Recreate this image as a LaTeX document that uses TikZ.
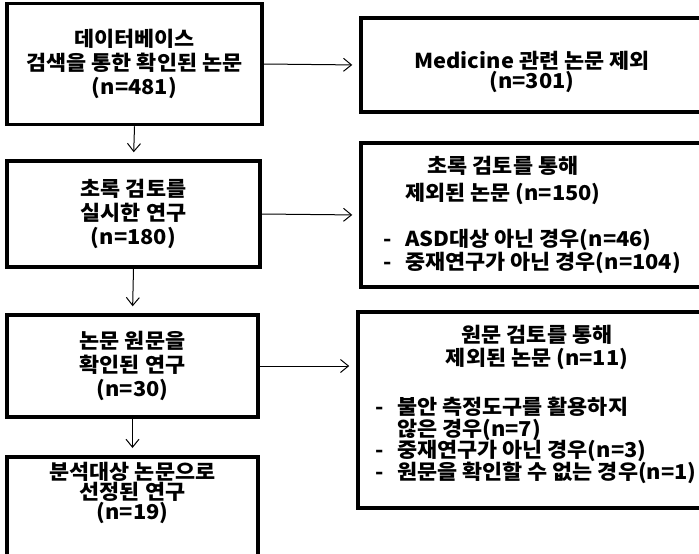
\documentclass[tikz,border=0pt]{standalone}
\usepackage{fontspec}
\setmainfont{Noto Sans CJK KR}[FakeStretch=1.065]
\usetikzlibrary{arrows.meta}

\tikzset{
	box/.style={draw=black, line width=3.5pt, inner sep=0pt},
	txt/.style={font=\fontsize{20.5}{24}\selectfont\bfseries, align=center, inner sep=0pt},
	lst/.style={font=\fontsize{20.5}{23}\selectfont\bfseries, align=left, inner sep=0pt, anchor=west},
	flow/.style={-{Straight Barb[length=8pt,width=13pt]}, line width=1pt, shorten >=7pt}
}
\newcommand{\lstdash}{\makebox[22pt][l]{-}}

\begin{document}
\begin{tikzpicture}[x=1pt, y=-1pt]
\useasboundingbox (0,0) rectangle (699,554);
\clip (0,0) rectangle (699,554);
\fill[white] (0,0) rectangle (699,554);

\node[box, txt, minimum width=255pt, minimum height=121pt] (db) at (134.5,64)
	{데이터베이스\\검색을 통한 확인된 논문\\(n=481)};
\node[box, txt, minimum width=253pt, minimum height=106pt] (abs) at (133.5,214)
	{초록 검토를\\실시한 연구\\(n=180)};
\node[box, txt, minimum width=251pt, minimum height=102pt] (full) at (132.5,366)
	{논문 원문을\\확인된 연구\\(n=30)};
\node[box, minimum width=251pt, minimum height=130pt, anchor=north] (sel) at (132.5,455) {};
\node[txt, font=\fontsize{20.5}{20}\selectfont\bfseries] (seltext) at (132.5,493)
	{분석대상 논문으로\\선정된 연구\\(n=19)};

\node[box, minimum width=342pt, minimum height=94pt] (med) at (532,65) {};
\node[txt, font=\fontsize{20.5}{19}\selectfont\bfseries] (medtext) at (532,72)
	{Medicine 관련 논문 제외\\(n=301)};

\node[box, minimum width=342pt, minimum height=144pt] (exabs) at (532,215) {};
\node[txt, font=\fontsize{20.5}{27}\selectfont\bfseries] (exabshead) at (503,180) {초록 검토를 통해\\제외된 논문 (n=150)};
\node[lst] (exabslist) at (383,251.5)
	{\lstdash ASD대상 아닌 경우(n=46)\\\lstdash 중재연구가 아닌 경우(n=104)};

\node[box, minimum width=345pt, minimum height=196pt] (exfull) at (530.5,410) {};
\node[txt, font=\fontsize{20.5}{23}\selectfont\bfseries] (exfullhead) at (537,347.5) {원문 검토를 통해\\제외된 논문 (n=11)};
\node[lst, font=\fontsize{20.5}{21.7}\selectfont\bfseries] (exfulllist) at (375,440.5)
	{\lstdash 불안 측정도구를 활용하지\\\hspace*{22pt}않은 경우(n=7)\\\lstdash 중재연구가 아닌 경우(n=3)\\\lstdash 원문을 확인할 수 없는 경우(n=1)};

\draw[flow] (db.south) -- (abs.north);
\draw[flow] (abs.south) -- (full.north);
\draw[flow] (full.south) -- (sel.north);
\draw[flow] (db.east) -- (med.west);
\draw[flow] (abs.east) -- (exabs.west);
\draw[flow] (full.east) -- (full.east -| exfull.west);
\end{tikzpicture}
\end{document}
